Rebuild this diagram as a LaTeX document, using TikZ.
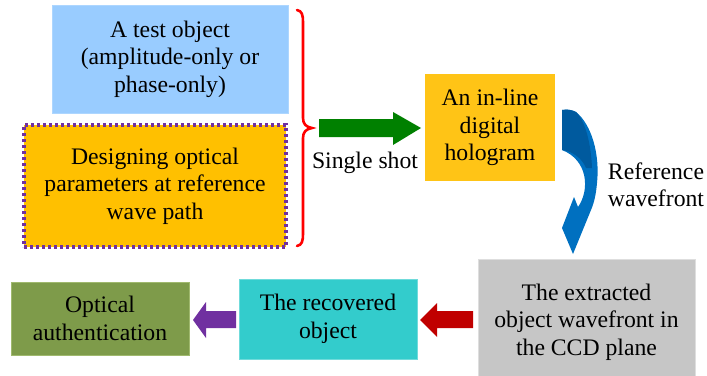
\documentclass[tikz,border=0pt]{standalone}
\usepackage{fontspec}
\setmainfont{Liberation Serif}
\definecolor{lblue}{RGB}{153,204,255}
\definecolor{gold}{RGB}{255,192,0}
\definecolor{holo}{RGB}{255,196,22}
\definecolor{purp}{RGB}{112,48,160}
\definecolor{grn}{RGB}{0,128,0}
\definecolor{dred}{RGB}{192,0,0}
\definecolor{cyanb}{RGB}{51,204,204}
\definecolor{olive}{RGB}{126,155,74}
\definecolor{oliveb}{RGB}{160,185,110}
\definecolor{grayb}{RGB}{198,198,198}
\definecolor{grayl}{RGB}{222,222,222}
\definecolor{blue1}{RGB}{0,112,192}
\definecolor{blue2}{RGB}{0,90,158}
\begin{document}
\begin{tikzpicture}[x=1pt,y=-1pt,
  every node/.style={font=\fontsize{23.7}{27.5}\selectfont, align=center, inner sep=0pt},
  blk/.style={rectangle, minimum width=#1}]
\useasboundingbox (0,0) rectangle (707,375);

% boxes
\node[blk=236pt, minimum height=108pt, fill=lblue, draw=lblue!80!white] (obj) at (170,59)
  {A test object\\(amplitude-only or\\phase-only)};
\node[blk=262pt, minimum height=122pt, fill=gold, draw=purp, line width=3.2pt,
  dash pattern=on 3pt off 3pt] (design) at (155,186)
  {Designing optical\\parameters at reference\\wave path};
\node[blk=130pt, minimum height=107pt, fill=holo] (holo) at (490,127.5)
  {An in-line\\digital\\hologram};
\node[blk=217pt, minimum height=126pt, fill=grayb, draw=grayl, line width=1pt] (ccd) at (586.5,322)
  {The extracted\\object wavefront in\\the CCD plane};
\node[blk=178pt, minimum height=80pt, fill=cyanb, draw=cyanb!70!white, line width=0.8pt] (rec) at (328,319)
  {The recovered\\object};
\node[blk=178pt, minimum height=73pt, fill=olive, draw=oliveb, line width=0.8pt] (auth) at (100,318.5)
  {Optical\\authentication};

% brace
\draw[red, line width=2.6pt, line cap=round]
  (297,10) .. controls (302,11) and (303,15) .. (303,22) -- (303,118)
  .. controls (303,124) and (306,127) .. (312,128)
  .. controls (306,129) and (303,132) .. (303,138) -- (303,234)
  .. controls (303,241) and (302,245) .. (297,246);

% green arrow
\fill[grn] (319,119) -- (393,119) -- (393,112) -- (421,128) -- (393,145) -- (393,137) -- (319,137) -- cycle;
\node (shot) at (365,162.5) {Single shot};

% curved blue arrow
\fill[blue1] (562,110) .. controls (568,109) and (572,110) .. (576,112)
  .. controls (592,125) and (600,155) .. (597,183)
  .. controls (596,195) and (594,203) .. (591,210)
  -- (573,254) -- (562,228) -- (574,197) -- (578,207)
  .. controls (590,190) and (588,160) .. (562,150) -- cycle;
\fill[blue2] (562,110) .. controls (568,109) and (572,110) .. (576,112)
  .. controls (586,122) and (591,145) .. (592,168)
  -- (586,168) .. controls (582,158) and (572,151) .. (562,150) -- cycle;
\node (refw) at (656,185) {Reference\\wavefront};

% bottom arrows
\fill[dred] (473,311) -- (437,311) -- (437,303) -- (420,320) -- (437,337) -- (437,328) -- (473,328) -- cycle;
\fill[purp] (236,311) -- (206,311) -- (206,302) -- (193,320) -- (206,338) -- (206,328) -- (236,328) -- cycle;
\end{tikzpicture}
\end{document}
